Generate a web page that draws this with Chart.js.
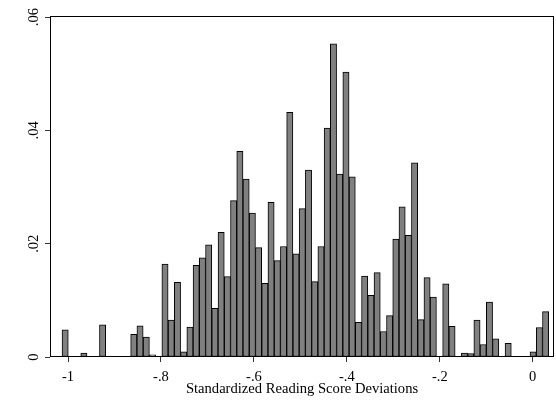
<!DOCTYPE html>
<html>
<head>
<meta charset="utf-8">
<script src="https://cdn.jsdelivr.net/npm/chart.js@4.4.1/dist/chart.umd.min.js"></script>
<style>
  html, body { margin: 0; padding: 0; background: #fff; }
  #wrap { width: 556px; height: 402px; }
</style>
</head>
<body>
<div id="wrap"><canvas id="hist"></canvas></div>
<script>
// histogram bins (left edge of first bin, bin width, density per bin)
const binStart = -1.0129;
const binWidth = 0.013428;
const density = [
  0.0048, 0, 0, 0.0007, 0, 0, 0.0057, 0, 0, 0,
  0, 0.0040, 0.0055, 0.0035, 0.0004, 0, 0.0164, 0.0065, 0.0132, 0.0009,
  0.0053, 0.0162, 0.0175, 0.0198, 0.0086, 0.0220, 0.0142, 0.0276, 0.0363, 0.0314,
  0.0254, 0.0193, 0.0130, 0.0273, 0.0170, 0.0195, 0.0432, 0.0182, 0.0262, 0.0330,
  0.0133, 0.0195, 0.0404, 0.0553, 0.0323, 0.0503, 0.0318, 0.0061, 0.0143, 0.0109,
  0.0149, 0.0045, 0.0073, 0.0208, 0.0265, 0.0215, 0.0343, 0.0066, 0.0140, 0.0106,
  0, 0.0129, 0.0054, 0, 0.0007, 0.0006, 0.0065, 0.0022, 0.0097, 0.0032,
  0, 0.0024, 0, 0, 0, 0.0009, 0.0052, 0.0080
];
const xTickValues = [-1, -0.8, -0.6, -0.4, -0.2, 0];
const xTickLabels = ['-1', '-.8', '-.6', '-.4', '-.2', '0'];
const yTickValues = [0, 0.02, 0.04, 0.06];
const yTickLabels = ['0', '.02', '.04', '.06'];

const serif = '"Liberation Serif", "DejaVu Serif", serif';

const points = density.map((d, i) => ({ x: binStart + (i + 0.5) * binWidth, y: d }));

// box around the plot region + rotated y tick labels
const frame = {
  id: 'frame',
  afterDatasetsDraw(chart) {
    const { ctx, chartArea: a, scales } = chart;
    ctx.save();
    ctx.strokeStyle = '#000';
    ctx.lineWidth = 1;
    ctx.strokeRect(a.left + 0.5, a.top + 0.5, a.right - a.left - 1, a.bottom - a.top - 1);

    ctx.fillStyle = '#000';
    ctx.font = '14.5px ' + serif;
    ctx.textAlign = 'center';
    ctx.textBaseline = 'middle';
    yTickValues.forEach((v, i) => {
      const y = scales.y.getPixelForValue(v);
      ctx.save();
      ctx.translate(34, y);
      ctx.rotate(-Math.PI / 2);
      ctx.fillText(yTickLabels[i], 0, 0);
      ctx.restore();
    });
    ctx.restore();
  }
};

new Chart(document.getElementById('hist'), {
  type: 'bar',
  data: {
    datasets: [{
      data: points,
      backgroundColor: '#808080',
      borderColor: '#000',
      borderWidth: 1,
      borderSkipped: false,
      barPercentage: 1,
      categoryPercentage: 1
    }]
  },
  options: {
    responsive: true,
    maintainAspectRatio: false,
    animation: false,
    layout: { padding: { top: 16, right: 2, left: 0, bottom: 0 } },
    plugins: {
      legend: { display: false },
      tooltip: { enabled: false }
    },
    scales: {
      x: {
        type: 'linear',
        offset: false,
        min: -1.0388,
        max: 0.0458,
        afterBuildTicks: s => { s.ticks = xTickValues.map(v => ({ value: v })); },
        afterFit: s => { s.height = 45; },
        grid: { drawOnChartArea: false, offset: false, tickLength: 5, color: '#333' },
        border: { display: false },
        ticks: {
          padding: 6,
          color: '#000',
          font: { family: serif, size: 14.5 },
          maxRotation: 0,
          callback: v => xTickLabels[xTickValues.indexOf(v)]
        },
        title: {
          display: true,
          text: 'Standardized Reading Score Deviations',
          color: '#000',
          font: { family: serif, size: 14.6 },
          padding: { top: 0, bottom: 4 }
        }
      },
      y: {
        min: 0,
        max: 0.0602,
        afterBuildTicks: s => { s.ticks = yTickValues.map(v => ({ value: v })); },
        afterFit: s => { s.width = 50; },
        grid: { drawOnChartArea: false, tickLength: 5, color: '#333' },
        border: { display: false },
        ticks: { display: false }
      }
    }
  },
  plugins: [frame]
});
</script>
</body>
</html>
